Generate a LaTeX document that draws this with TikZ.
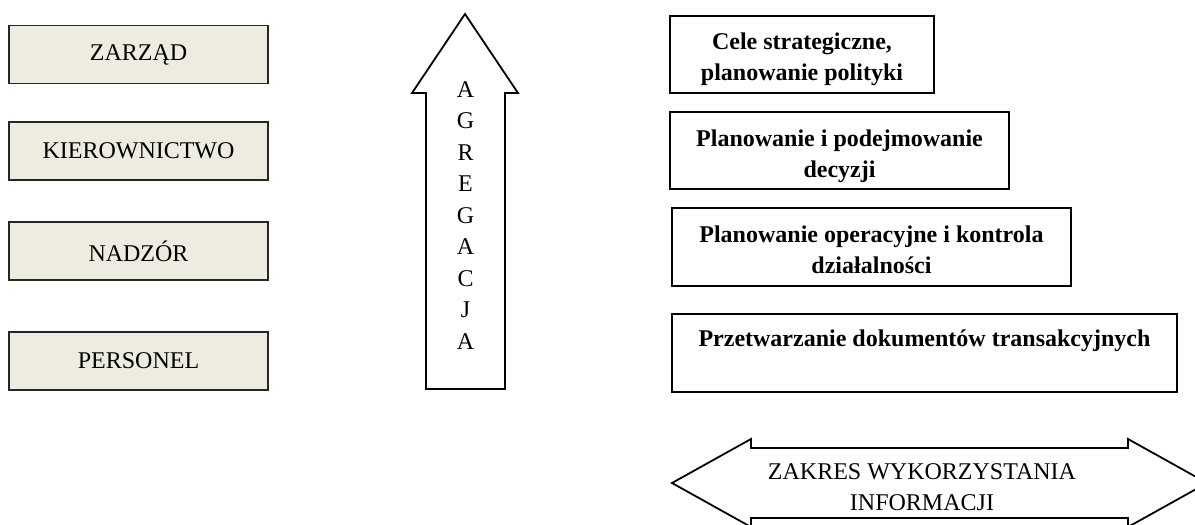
\documentclass[tikz,border=0pt]{standalone}
\usepackage{fontspec}
\setmainfont{Liberation Serif}
\usepackage{tikz}
\usetikzlibrary{positioning,calc}
\usepackage{xcolor}
\definecolor{paperTan}{HTML}{EEECE1}

\begin{document}
\begin{tikzpicture}[x=0.5pt, y=-0.5pt,
    levelBox/.style={draw=black!85, fill=paperTan, line width=0.9pt, font=\fontsize{12}{15.75}\selectfont, minimum width=129.5pt, minimum height=29pt, inner sep=0pt},
    taskBox/.style={draw=black, fill=white, line width=0.9pt, inner sep=0pt},
    taskText/.style={font=\fontsize{12}{15.75}\selectfont\bfseries, align=center, inner sep=0pt, anchor=north},
    arrowShape/.style={draw=black, fill=white, line width=0.9pt, line join=miter},
    arrowText/.style={font=\fontsize{12}{15.75}\selectfont, align=center, inner sep=0pt, anchor=north}
]
    \clip (0,0) rectangle (1195,525);

    % poziomy zarzadzania
    \node[levelBox] (zarzad) at (138.5, 54.5) {ZARZĄD};
    \node[levelBox] (kierownictwo) at (138.5, 151) {KIEROWNICTWO};
    \node[levelBox] (nadzor) at (138.5, 251) {NADZÓR};
    \node[levelBox] (personel) at (138.5, 361) {PERSONEL};

    % strzalka agregacji
    \draw[arrowShape] (465,14) -- (518,93) -- (505,93) -- (505,389) -- (426,389) -- (426,93) -- (412,93) -- cycle;
    \node[arrowText] (agregacja) at (465.5, 81) {A\\G\\R\\E\\G\\A\\C\\J\\A};

    % zadania
    \node[taskBox, minimum width=132pt, minimum height=38.5pt] (cele) at (802, 54.5) {};
    \node[taskText] (celeTxt) at ($(cele.north)+(0,17)$) {Cele strategiczne,\\planowanie polityki};

    \node[taskBox, minimum width=169.5pt, minimum height=38.5pt] (decyzje) at (839.5, 150.5) {};
    \node[taskText] (decyzjeTxt) at ($(decyzje.north)+(0,18)$) {Planowanie i podejmowanie\\decyzji};

    \node[taskBox, minimum width=199.5pt, minimum height=39pt] (kontrola) at (871.5, 247) {};
    \node[taskText] (kontrolaTxt) at ($(kontrola.north)+(0,18)$) {Planowanie operacyjne i kontrola\\działalności};

    \node[taskBox, minimum width=252.5pt, minimum height=39pt] (transakcje) at (924.5, 353) {};
    \node[taskText] (transakcjeTxt) at ($(transakcje.north)+(0,16)$) {Przetwarzanie dokumentów transakcyjnych};

    % zakres wykorzystania
    \draw[arrowShape] (672,483) -- (751,439) -- (751,448) -- (1128,448) -- (1128,439) -- (1207,483)
        -- (1128,527) -- (1128,518) -- (751,518) -- (751,527) -- cycle;
    \node[arrowText] (zakres) at (922, 463) {ZAKRES WYKORZYSTANIA\\INFORMACJI};
\end{tikzpicture}
\end{document}
